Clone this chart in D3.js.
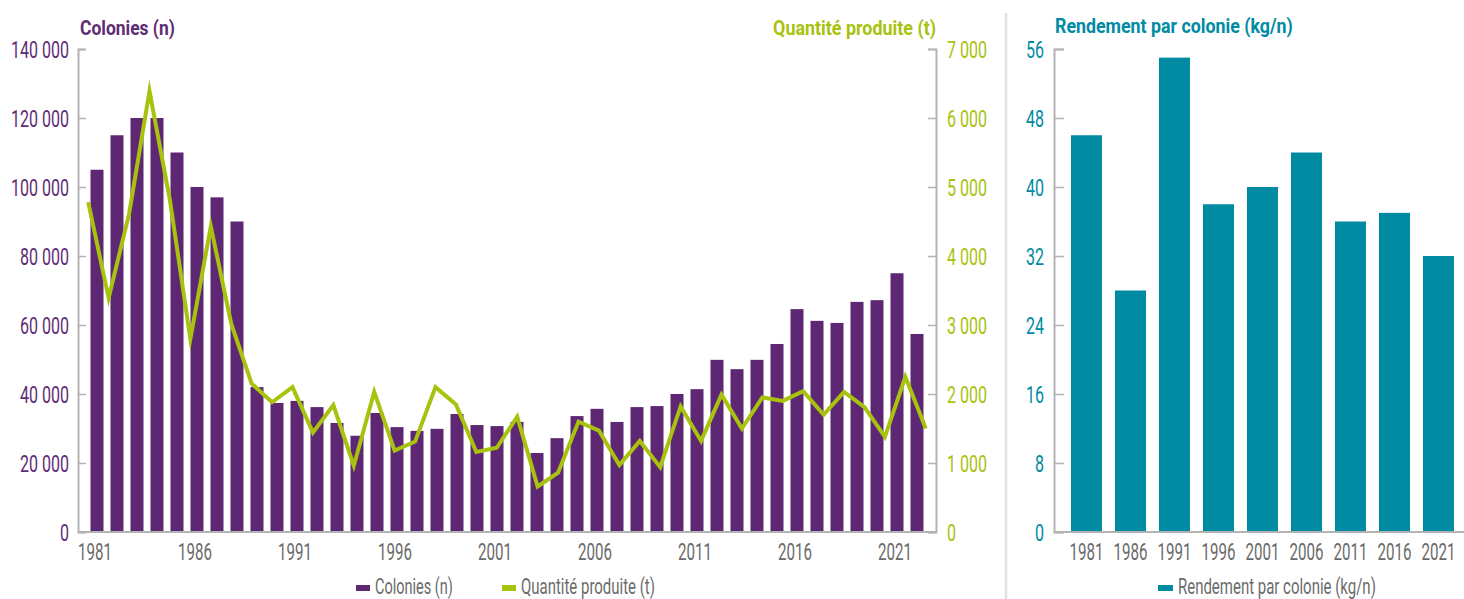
<!DOCTYPE html>
<html>
<head>
<meta charset="utf-8">
<script src="https://cdn.jsdelivr.net/npm/d3@7"></script>
<style>
  html, body { margin: 0; padding: 0; background: #fff; }
  svg { display: block; }
  text { font-family: "Roboto", "Liberation Sans", sans-serif; }
</style>
</head>
<body>
<svg id="chart" width="1464" height="599"></svg>
<script>
// ---------- DATA ----------
const years = [1981,1982,1983,1984,1985,1986,1987,1988,1989,1990,1991,1992,1993,1994,1995,1996,1997,1998,1999,2000,2001,2002,2003,2004,2005,2006,2007,2008,2009,2010,2011,2012,2013,2014,2015,2016,2017,2018,2019,2020,2021,2022];
const colonies = [105000,115000,120000,120000,110000,100000,97000,90000,42000,37400,38000,36200,31600,27900,34500,30400,29300,29900,34200,31000,30700,31900,22900,27200,33600,35700,31900,36200,36500,40000,41400,49900,47200,49900,54500,64600,61200,60600,66700,67200,75000,57400];
const quantite = [4780,3390,4610,6390,4810,2800,4430,3020,2150,1880,2100,1440,1840,960,2030,1180,1310,2100,1850,1160,1220,1670,660,860,1600,1470,970,1320,940,1820,1320,1990,1500,1950,1900,2040,1700,2030,1810,1380,2250,1500];
const xTickYears = [1981,1986,1991,1996,2001,2006,2011,2016,2021];
const coloniesTicks = [0,20000,40000,60000,80000,100000,120000,140000];
const quantiteTicks = [0,1000,2000,3000,4000,5000,6000,7000];

const rendYears = ["1981","1986","1991","1996","2001","2006","2011","2016","2021"];
const rendement = [46,28,55,38,40,44,36,37,32];
const rendTicks = [0,8,16,24,32,40,48,56];

// ---------- STYLE ----------
const PURPLE = "#5d2773";
const PURPLE_TXT = "#5f2c76";
const LIME = "#a8c20e";
const TEAL = "#008ba3";
const AXIS = "#b3b3b3";
const GREY_TXT = "#6b6b6b";

const fr = d3.formatLocale({decimal: ",", thousands: "\u00a0", grouping: [3], currency: ["", " €"]});
const fmt = fr.format(",d");

// horizontal condensing helpers (the source uses a condensed face)
function condense(sel, sx) {
  sel.each(function () {
    const t = d3.select(this);
    const x = +t.attr("x") || 0;
    t.attr("transform", `translate(${x},0) scale(${sx},1) translate(${-x},0)`);
  });
}
function fitWidth(sel, w) {
  sel.each(function () {
    const len = this.getComputedTextLength();
    condense(d3.select(this), w / len);
  });
}
function sxFor(sel, label, w) {
  let sx = 0.7;
  sel.each(function () {
    if (this.textContent === label) sx = w / this.getComputedTextLength();
  });
  return sx;
}

const svg = d3.select("#chart");

// ---------- LEFT CHART ----------
const L = {x0: 78, x1: 936, yTop: 49, yBot: 532};

const xBar = d3.scaleBand().domain(years).range([L.x0, L.x1]).paddingInner(0.35).paddingOuter(0.625);
const xLine = d3.scalePoint().domain(years).range([L.x0, L.x1]).padding(0.5);
const yCol = d3.scaleLinear().domain([0, 140000]).range([L.yBot, L.yTop]);
const yQty = d3.scaleLinear().domain([0, 7000]).range([L.yBot, L.yTop]);

const left = svg.append("g");

left.append("g").selectAll("rect").data(years).join("rect")
  .attr("x", d => xBar(d))
  .attr("width", xBar.bandwidth())
  .attr("y", (d, i) => yCol(colonies[i]))
  .attr("height", (d, i) => yCol(0) - yCol(colonies[i]))
  .attr("fill", PURPLE);

const line = d3.line().x((d, i) => xLine(years[i])).y(d => yQty(d));
left.append("path").datum(quantite)
  .attr("d", line)
  .attr("fill", "none")
  .attr("stroke", LIME)
  .attr("stroke-width", 4)
  .attr("stroke-linejoin", "miter")
  .attr("stroke-miterlimit", 10);

const TICK_FS = "23.5px";

// left axis
const axL = left.append("g").attr("transform", `translate(${L.x0},0)`)
  .call(d3.axisLeft(yCol).tickValues(coloniesTicks).tickFormat(fmt).tickSize(-8).tickPadding(9));
axL.select(".domain").attr("stroke", AXIS).attr("stroke-width", 2);
axL.selectAll(".tick line").attr("stroke", AXIS).attr("stroke-width", 1.5);
const tL = axL.selectAll(".tick text").attr("fill", PURPLE_TXT).style("font-size", TICK_FS).attr("dy", "0.36em");
const numSx = sxFor(tL, fmt(140000), 58);
condense(tL, numSx);

// right axis
const axR = left.append("g").attr("transform", `translate(${L.x1},0)`)
  .call(d3.axisRight(yQty).tickValues(quantiteTicks).tickFormat(fmt).tickSize(-8).tickPadding(11));
axR.select(".domain").attr("stroke", AXIS).attr("stroke-width", 2);
axR.selectAll(".tick line").attr("stroke", AXIS).attr("stroke-width", 1.5);
condense(axR.selectAll(".tick text").attr("fill", LIME).style("font-size", TICK_FS).attr("dy", "0.36em"), numSx);

// x axis
const axX = left.append("g").attr("transform", `translate(0,${L.yBot})`)
  .call(d3.axisBottom(xBar).tickValues(xTickYears).tickSize(0).tickSizeOuter(0));
axX.select(".domain").attr("stroke", AXIS).attr("stroke-width", 2)
  .attr("d", `M${L.x0},0H${L.x1}`);
const tX = axX.selectAll(".tick text").attr("fill", GREY_TXT).style("font-size", TICK_FS).attr("y", 28).attr("dy", 0).attr("x", -2);
const yearSx = sxFor(tX, "1981", 34);
condense(tX, yearSx);

// titles
fitWidth(left.append("text").attr("x", 80).attr("y", 35).text("Colonies (n)")
  .attr("fill", PURPLE_TXT).style("font-size", "21px").style("font-weight", "bold"), 95);
fitWidth(left.append("text").attr("x", 936).attr("y", 35).attr("text-anchor", "end").text("Quantité produite (t)")
  .attr("fill", LIME).style("font-size", "21px").style("font-weight", "bold"), 163);

// legend
const LEG_FS = "21.5px";
const legL = left.append("g");
legL.append("rect").attr("x", 356).attr("y", 585).attr("width", 14).attr("height", 6).attr("fill", PURPLE);
fitWidth(legL.append("text").attr("x", 375).attr("y", 594).text("Colonies (n)").attr("fill", GREY_TXT).style("font-size", LEG_FS), 78);
legL.append("rect").attr("x", 502).attr("y", 585).attr("width", 14).attr("height", 6).attr("fill", LIME);
fitWidth(legL.append("text").attr("x", 521).attr("y", 594).text("Quantité produite (t)").attr("fill", GREY_TXT).style("font-size", LEG_FS), 134);

// separator
svg.append("line").attr("x1", 1006).attr("x2", 1006).attr("y1", 13).attr("y2", 599)
  .attr("stroke", "#e0e0e0").attr("stroke-width", 2.5);

// ---------- RIGHT CHART ----------
const R = {x0: 1054, x1: 1471, yTop: 49, yBot: 532};
const xR = d3.scaleBand().domain(rendYears).range([R.x0, R.x1]).paddingInner(0.295).paddingOuter(0.386);
const yR = d3.scaleLinear().domain([0, 56]).range([R.yBot, R.yTop]);

const right = svg.append("g");
right.append("g").selectAll("rect").data(rendYears).join("rect")
  .attr("x", d => xR(d))
  .attr("width", xR.bandwidth())
  .attr("y", (d, i) => yR(rendement[i]))
  .attr("height", (d, i) => yR(0) - yR(rendement[i]))
  .attr("fill", TEAL);

const axRL = right.append("g").attr("transform", `translate(${R.x0},0)`)
  .call(d3.axisLeft(yR).tickValues(rendTicks).tickSize(-10).tickPadding(10));
axRL.select(".domain").attr("stroke", AXIS).attr("stroke-width", 2);
axRL.selectAll(".tick line").attr("stroke", AXIS).attr("stroke-width", 1.5);
condense(axRL.selectAll(".tick text").attr("fill", TEAL).style("font-size", TICK_FS).attr("dy", "0.36em"), numSx);

const axRX = right.append("g").attr("transform", `translate(0,${R.yBot})`)
  .call(d3.axisBottom(xR).tickSize(0).tickSizeOuter(0));
axRX.select(".domain").attr("stroke", AXIS).attr("stroke-width", 2).attr("d", `M${R.x0},0H1464`);
condense(axRX.selectAll(".tick text").attr("fill", GREY_TXT).style("font-size", TICK_FS).attr("y", 28).attr("dy", 0), yearSx);

fitWidth(right.append("text").attr("x", 1055).attr("y", 33).text("Rendement par colonie (kg/n)")
  .attr("fill", TEAL).style("font-size", "21px").style("font-weight", "bold"), 238);

const legR = right.append("g");
legR.append("rect").attr("x", 1158).attr("y", 585).attr("width", 15).attr("height", 6).attr("fill", TEAL);
fitWidth(legR.append("text").attr("x", 1178).attr("y", 594).text("Rendement par colonie (kg/n)").attr("fill", GREY_TXT).style("font-size", LEG_FS), 198);
</script>
</body>
</html>
